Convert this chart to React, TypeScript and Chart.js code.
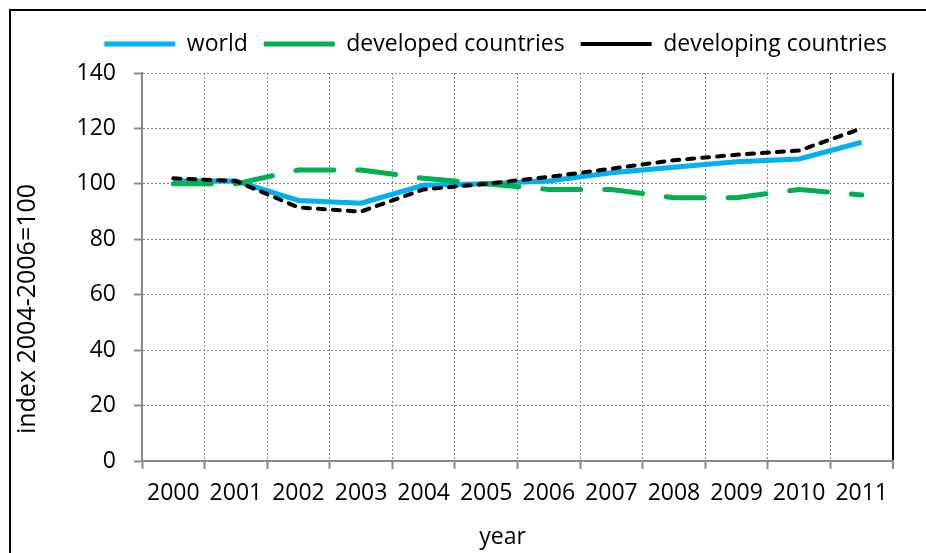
import React, { useEffect, useRef } from 'react';
import { Chart, registerables } from 'chart.js';

Chart.register(...registerables);

const YEARS = ['2000', '2001', '2002', '2003', '2004', '2005', '2006', '2007', '2008', '2009', '2010', '2011'];
const WORLD = [101, 101, 94, 93, 99.5, 100, 101, 104, 106, 108, 109, 115];
const DEVELOPED = [100, 100, 105, 105, 102, 100, 98, 98, 95, 95, 98, 96];
const DEVELOPING = [102, 101, 91.5, 90, 98, 100, 102.5, 105.5, 108.5, 110.5, 112, 120];
const SERIES_NAMES = ['world', 'developed countries', 'developing countries'];
const Y_MIN = 0;
const Y_MAX = 140;
const Y_STEP = 20;
const X_TITLE = 'year';
const Y_TITLE = 'index 2004-2006=100';

const FONT = '"Open Sans", sans-serif';
const GRID = '#8a8a8a';

// the closing (right-hand) category boundary has no tick of its own -> scale context
const isLastX = (c: any) => c.type !== 'tick' || c.index === YEARS.length;

const axisTitles = {
  id: 'axisTitles',
  afterDraw(chart: any) {
    const { ctx, chartArea } = chart;
    ctx.save();
    ctx.fillStyle = '#000';
    ctx.textAlign = 'center';
    ctx.textBaseline = 'middle';
    ctx.font = `23px ${FONT}`;
    ctx.fillText(X_TITLE, (chartArea.left + chartArea.right) / 2 - 15, chartArea.bottom + 76);
    ctx.font = `25px ${FONT}`;
    ctx.translate(28, (chartArea.top + chartArea.bottom) / 2 + 42);
    ctx.rotate(-Math.PI / 2);
    ctx.fillText(Y_TITLE, 0, 0);
    ctx.restore();
  },
};

export default function App() {
  const ref = useRef<HTMLCanvasElement>(null);
  useEffect(() => {
    const chart = new Chart(ref.current!, {
      type: 'line',
      data: {
        labels: YEARS,
        datasets: [
          {
            label: SERIES_NAMES[0],
            data: WORLD,
            borderColor: '#00B0F0',
            backgroundColor: '#00B0F0',
            borderWidth: 5,
            pointRadius: 0,
            tension: 0,
            order: 3,
          },
          {
            label: SERIES_NAMES[1],
            data: DEVELOPED,
            borderColor: '#00B050',
            backgroundColor: '#00B050',
            borderWidth: 5,
            borderDash: [38, 24],
            borderCapStyle: 'round',
            pointRadius: 0,
            tension: 0,
            order: 2,
          },
          {
            label: SERIES_NAMES[2],
            data: DEVELOPING,
            borderColor: '#000000',
            backgroundColor: '#000000',
            borderWidth: 4,
            borderDash: [7, 8],
            borderCapStyle: 'round',
            pointRadius: 0,
            tension: 0,
            order: 1,
          },
        ],
      },
      options: {
        animation: false,
        responsive: false,
        devicePixelRatio: 1,
        layout: { padding: { top: 16.5, left: 0, right: 23, bottom: 0 } },
        plugins: {
          legend: {
            position: 'top',
            align: 'end',
            labels: {
              usePointStyle: true,
              pointStyle: 'line',
              pointStyleWidth: 71,
              padding: 16,
              color: '#000',
              font: { family: FONT, size: 23 },
              sort: (a: any, b: any) => a.datasetIndex - b.datasetIndex,
            },
          },
          title: {
            display: true,
            text: '',
            weight: 0,
            font: { size: 1 },
            padding: { top: 0, bottom: 6.3 },
          },
          tooltip: { enabled: false },
        },
        scales: {
          x: {
            type: 'category',
            offset: true,
            grid: {
              offset: true,
              color: (c: any) => (isLastX(c) ? '#000' : GRID),
              lineWidth: (c: any) => (isLastX(c) ? 2 : 1),
              tickLength: 8,
              tickColor: GRID,
              tickWidth: 2,
              tickBorderDash: [],
            },
            border: { display: true, color: GRID, width: 2, dash: (c: any) => (isLastX(c) ? [] : [2, 2]) },
            ticks: { color: '#000', font: { family: FONT, size: 23 }, padding: 11, maxRotation: 0, autoSkip: false },
            afterFit: (s: any) => { s.height = 92; },
          },
          y: {
            type: 'linear',
            position: 'left',
            min: Y_MIN,
            max: Y_MAX,
            grid: {
              color: GRID,
              lineWidth: 1,
              tickLength: 8,
              tickColor: GRID,
              tickWidth: 2,
              tickBorderDash: [],
            },
            border: { display: true, color: GRID, width: 2, dash: [2, 2] },
            ticks: { stepSize: Y_STEP, color: '#000', font: { family: FONT, size: 23 }, padding: 18 },
            afterFit: (s: any) => { s.width = 142; },
          },
          y2: {
            type: 'linear',
            position: 'right',
            min: Y_MIN,
            max: Y_MAX,
            grid: { drawOnChartArea: false, drawTicks: false },
            border: { display: false },
            ticks: { display: false },
            afterFit: (s: any) => { s.width = 10; },
          },
        },
      },
      plugins: [axisTitles],
    } as any);
    return () => chart.destroy();
  }, []);

  return (
    <div style={{ position: 'fixed', left: 0, top: 0, width: 926, height: 553, background: '#fff', overflow: 'hidden' }}>
      <canvas ref={ref} width={926} height={553} style={{ display: 'block', position: 'absolute', left: 0, top: 0 }} />
      <div
        style={{
          position: 'absolute',
          left: 9,
          top: 9,
          width: 940,
          height: 570,
          borderLeft: '2px solid #000',
          borderTop: '2px solid #000',
          pointerEvents: 'none',
        }}
      />
    </div>
  );
}
